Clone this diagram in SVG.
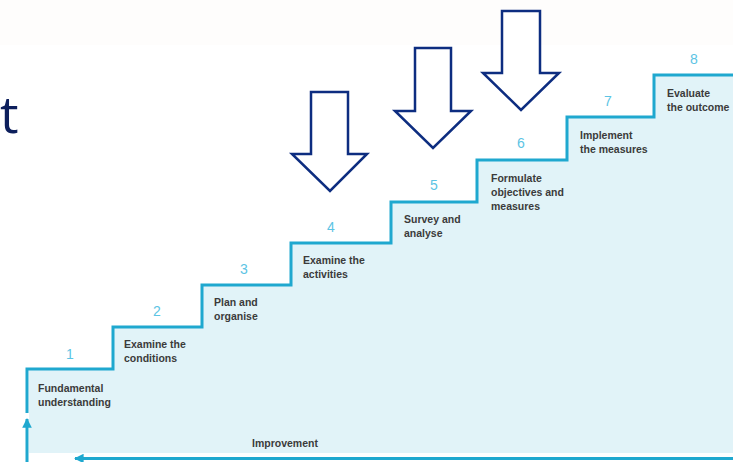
<svg xmlns="http://www.w3.org/2000/svg" width="733" height="462" viewBox="0 0 733 462">
<defs>
<style>
.num{font-family:"Liberation Sans",Arial,sans-serif;font-size:14px;fill:#5cc4e4;text-anchor:middle}
.lbl{font-family:"Liberation Sans",Arial,sans-serif;font-size:10.5px;font-weight:bold;fill:#3b3b3b}
.stair{fill:none;stroke:#1fa8cf;stroke-width:3;stroke-linejoin:miter}
.big{fill:#ffffff;stroke:#0d2d80;stroke-width:2.5;stroke-linejoin:miter}
</style>
<marker id="ah" viewBox="0 0 10 10" refX="9" refY="5" markerWidth="3.2" markerHeight="3.2" orient="auto" markerUnits="strokeWidth">
<path d="M0,0 L10,5 L0,10 Z" fill="#1fa8cf"/>
</marker>
</defs>
<rect x="0" y="0" width="733" height="462" fill="#ffffff"/>
<rect x="0" y="0" width="733" height="45" fill="#fefdfc"/>
<text x="0" y="133" font-family="'Open Sans','Liberation Sans',sans-serif" font-size="52" fill="#0d1f5c">t</text>
<g id="fill">
<path d="M29,370 H113 V327 H202 V285 H291 V243 H391 V202 H477 V160 H567 V117 H654 V75 H733 V453 H29 Z" fill="#e1f3f8"/>
</g>
<g id="connectors">
<path class="stair" d="M27,413 V369 H113 V327 H202 V285 H291 V243 H391 V202 H477 V160 H567 V117 H654 V75 H733"/>
<line x1="27" y1="462" x2="27" y2="419" stroke="#1fa8cf" stroke-width="3" marker-end="url(#ah)"/>
<line x1="733" y1="458.5" x2="75" y2="458.5" stroke="#1fa8cf" stroke-width="3" marker-end="url(#ah)"/>
</g>
<g id="arrow1"><polygon class="big" points="311,92 348,92 348,154 367,154 330,191 292,154 311,154"/></g>
<g id="arrow2"><polygon class="big" points="415,48 451,48 451,111 471,111 433,148 395,111 415,111"/></g>
<g id="arrow3"><polygon class="big" points="502,11 540,11 540,73 559,73 521,110 483,73 502,73"/></g>
<g id="step1"><text class="num" x="70" y="359">1</text><text class="lbl" x="38" y="392">Fundamental</text><text class="lbl" x="38" y="406">understanding</text></g>
<g id="step2"><text class="num" x="157" y="316">2</text><text class="lbl" x="124" y="348">Examine the</text><text class="lbl" x="124" y="362">conditions</text></g>
<g id="step3"><text class="num" x="244" y="274">3</text><text class="lbl" x="214" y="306">Plan and</text><text class="lbl" x="214" y="320">organise</text></g>
<g id="step4"><text class="num" x="331" y="232">4</text><text class="lbl" x="303" y="264">Examine the</text><text class="lbl" x="303" y="278">activities</text></g>
<g id="step5"><text class="num" x="434" y="190">5</text><text class="lbl" x="404" y="223">Survey and</text><text class="lbl" x="404" y="237">analyse</text></g>
<g id="step6"><text class="num" x="521" y="148">6</text><text class="lbl" x="491" y="182">Formulate</text><text class="lbl" x="491" y="196">objectives and</text><text class="lbl" x="491" y="210">measures</text></g>
<g id="step7"><text class="num" x="608" y="106">7</text><text class="lbl" x="580" y="139">Implement</text><text class="lbl" x="580" y="153">the measures</text></g>
<g id="step8"><text class="num" x="694" y="64">8</text><text class="lbl" x="667" y="97">Evaluate</text><text class="lbl" x="667" y="111">the outcome</text></g>
<g id="improvement"><text class="lbl" x="252" y="447">Improvement</text></g>
</svg>
